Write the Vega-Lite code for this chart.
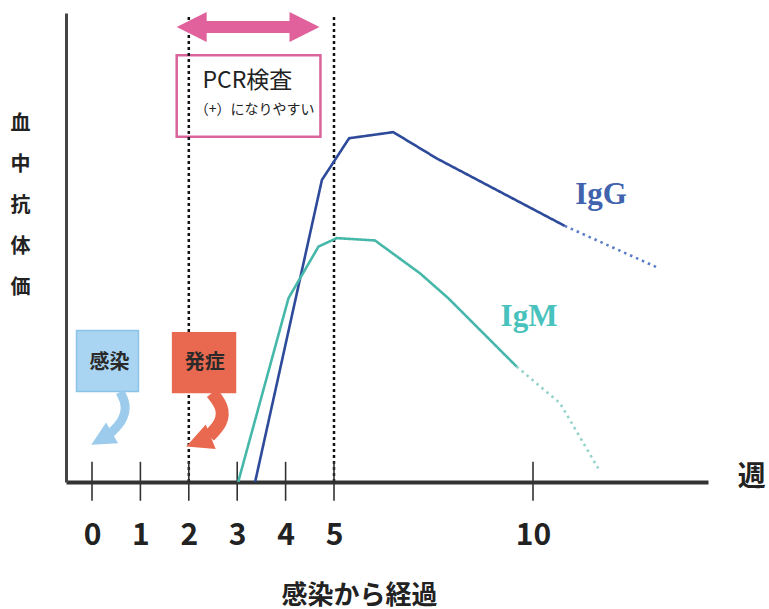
{
  "$schema": "https://vega.github.io/schema/vega-lite/v6.json",
  "width": 642,
  "height": 469,
  "autosize": {"type": "none"},
  "padding": {"left": 66, "top": 13, "right": 61, "bottom": 127},
  "background": "white",
  "config": {"view": {"stroke": null}},
  "encoding": {
    "x": {
      "field": "w", "type": "quantitative",
      "scale": {"type": "linear", "domain": [-0.537, 0, 5, 10, 14.4], "range": [0, 26, 268, 467, 642], "nice": false, "zero": false},
      "axis": {
        "values": [0, 1, 2, 3, 4, 5, 10], "ticks": false, "tickSize": 0, "grid": false,
        "domainColor": "#333", "domainWidth": 4,
        "labelFont": "Noto Sans CJK JP", "labelFontWeight": "bold", "labelFontSize": 30, "labelColor": "#222",
        "labelPadding": 38, "labelBaseline": "top", "labelFlush": false, "labelOverlap": false,
        "title": "感染から経過", "titleFont": "Noto Sans CJK JP", "titleFontSize": 26, "titleFontWeight": "bold", "titleColor": "#222",
        "titleX": 293, "titleY": 113, "titleBaseline": "middle", "titleAlign": "center", "titleAnchor": null
      }
    },
    "y": {
      "field": "v", "type": "quantitative",
      "scale": {"domain": [0, 100], "nice": false, "zero": false},
      "axis": {
        "ticks": false, "labels": false, "grid": false, "domainColor": "#444", "domainWidth": 3,
        "title": ["血", "中", "抗", "体", "価"], "titleAngle": 0, "titleFont": "Noto Sans CJK JP", "titleFontSize": 20,
        "titleFontWeight": "bold", "titleColor": "#222", "titleLineHeight": 41,
        "titleX": -46, "titleY": 110, "titleBaseline": "middle", "titleAlign": "center"
      }
    }
  },
  "layer": [
    {
      "data": {"values": [{"w": 1.75, "w2": 4.72, "v": 91.0, "v2": 73.6}]},
      "mark": {"type": "rect", "fill": "white", "stroke": "#d8649c", "strokeWidth": 2.5},
      "encoding": {"x2": {"field": "w2"}, "y2": {"field": "v2"}}
    },
    {
      "data": {"values": [{"w": 2, "v": 0, "v2": 99.4}, {"w": 5, "v": 0, "v2": 99.8}]},
      "mark": {"type": "rule", "color": "#111", "strokeWidth": 2.5, "strokeDash": [3, 3]},
      "encoding": {"y2": {"field": "v2"}}
    },
    {
      "data": {"values": [{"w": 0, "v": -4.0, "v2": 4.3}, {"w": 1, "v": -4.0, "v2": 4.3}, {"w": 2, "v": -4.0, "v2": 4.3}, {"w": 3, "v": -4.0, "v2": 4.3}, {"w": 4, "v": -4.0, "v2": 4.3}, {"w": 5, "v": -4.0, "v2": 4.3}, {"w": 10, "v": -4.0, "v2": 4.3}]},
      "mark": {"type": "rule", "color": "#333", "strokeWidth": 1.6},
      "encoding": {"y2": {"field": "v2"}}
    },
    {
      "data": {"values": [{"w": 2.06, "w2": 4.39, "v": 97.0}]},
      "mark": {"type": "rule", "color": "#e0619b", "strokeWidth": 12},
      "encoding": {"x2": {"field": "w2"}}
    },
    {
      "data": {"values": [{"w": 2.06, "v": 97.0}]},
      "mark": {"type": "point", "shape": "M1,-1L-1,0L1,1Z", "filled": true, "size": 900, "color": "#e0619b", "opacity": 1}
    },
    {
      "data": {"values": [{"w": 4.39, "v": 97.0}]},
      "mark": {"type": "point", "shape": "M-1,-1L1,0L-1,1Z", "filled": true, "size": 900, "color": "#e0619b", "opacity": 1}
    },
    {
      "data": {"values": [{"w": -0.32, "w2": 0.96, "v": 32.3, "v2": 19.3}]},
      "mark": {"type": "rect", "fill": "#a9d5f2", "stroke": "#8cc3e8", "strokeWidth": 1.5},
      "encoding": {"x2": {"field": "w2"}, "y2": {"field": "v2"}}
    },
    {
      "data": {"values": [{"w": 1.65, "w2": 2.98, "v": 32.0, "v2": 18.9}]},
      "mark": {"type": "rect", "fill": "#e8694f"},
      "encoding": {"x2": {"field": "w2"}, "y2": {"field": "v2"}}
    },
    {
      "data": {"values": [{"o": 1, "w": 0.58, "v": 19.2}, {"o": 2, "w": 0.72, "v": 16.4}, {"o": 3, "w": 0.64, "v": 13.0}, {"o": 4, "w": 0.38, "v": 10.4}]},
      "mark": {"type": "line", "interpolate": "basis", "color": "#9ccbec", "strokeWidth": 9},
      "encoding": {"order": {"field": "o"}}
    },
    {
      "data": {"values": [{"w": 0.2, "v": 9.2}]},
      "mark": {"type": "point", "shape": "M-1,-1L1,0L-1,1Z", "filled": true, "size": 576, "angle": 150, "color": "#9ccbec", "opacity": 1}
    },
    {
      "data": {"values": [{"o": 1, "w": 2.48, "v": 19.0}, {"o": 2, "w": 2.71, "v": 16.0}, {"o": 3, "w": 2.69, "v": 12.6}, {"o": 4, "w": 2.42, "v": 9.8}]},
      "mark": {"type": "line", "interpolate": "basis", "color": "#e8694f", "strokeWidth": 13},
      "encoding": {"order": {"field": "o"}}
    },
    {
      "data": {"values": [{"w": 2.2, "v": 8.6}]},
      "mark": {"type": "point", "shape": "M-1,-1L1,0L-1,1Z", "filled": true, "size": 700, "angle": 158, "color": "#e8694f", "opacity": 1}
    },
    {
      "data": {"values": [
        {"line": "IgG", "seg": "solid", "w": 3.37, "v": 0},
        {"line": "IgG", "seg": "solid", "w": 4.75, "v": 64.4},
        {"line": "IgG", "seg": "solid", "w": 5.38, "v": 73.3},
        {"line": "IgG", "seg": "solid", "w": 6.49, "v": 74.6},
        {"line": "IgG", "seg": "solid", "w": 7.58, "v": 69.0},
        {"line": "IgG", "seg": "solid", "w": 10.80, "v": 54.6},
        {"line": "IgG (推定)", "seg": "dotted", "w": 10.80, "v": 54.6},
        {"line": "IgG (推定)", "seg": "dotted", "w": 13.11, "v": 45.8},
        {"line": "IgM", "seg": "solid", "w": 3.02, "v": 0},
        {"line": "IgM", "seg": "solid", "w": 4.06, "v": 39.2},
        {"line": "IgM", "seg": "solid", "w": 4.68, "v": 50.2},
        {"line": "IgM", "seg": "solid", "w": 5.07, "v": 52.0},
        {"line": "IgM", "seg": "solid", "w": 6.03, "v": 51.5},
        {"line": "IgM", "seg": "solid", "w": 7.16, "v": 44.5},
        {"line": "IgM", "seg": "solid", "w": 7.87, "v": 39.2},
        {"line": "IgM", "seg": "solid", "w": 9.59, "v": 24.6},
        {"line": "IgM (推定)", "seg": "dotted", "w": 9.59, "v": 24.6},
        {"line": "IgM (推定)", "seg": "dotted", "w": 10.68, "v": 16.8},
        {"line": "IgM (推定)", "seg": "dotted", "w": 11.64, "v": 2.9}
      ]},
      "mark": {"type": "line", "strokeWidth": 2.6},
      "encoding": {
        "color": {"field": "line", "type": "nominal", "scale": {"domain": ["IgG", "IgG (推定)", "IgM", "IgM (推定)"], "range": ["#2e4a9a", "#5b7cc6", "#46b8aa", "#93d3cb"]}, "legend": null},
        "strokeDash": {"field": "seg", "type": "nominal", "scale": {"domain": ["solid", "dotted"], "range": [[1, 0], [2.5, 4]]}, "legend": null}
      }
    },
    {
      "data": {"values": [{"w": 3.21, "v": 85.4, "t": "PCR検査"}]},
      "mark": {"type": "text", "font": "Noto Sans CJK JP", "fontSize": 23, "color": "#222", "baseline": "middle", "align": "center"},
      "encoding": {"text": {"field": "t"}}
    },
    {
      "data": {"values": [{"w": 3.36, "v": 79.3, "t": "（+）になりやすい"}]},
      "mark": {"type": "text", "font": "Noto Sans CJK JP", "fontSize": 14, "color": "#222", "baseline": "middle", "align": "center"},
      "encoding": {"text": {"field": "t"}}
    },
    {
      "data": {"values": [{"w": 0.36, "v": 25.4, "t": "感染"}, {"w": 2.33, "v": 25.3, "t": "発症"}]},
      "mark": {"type": "text", "font": "Noto Sans CJK JP", "fontSize": 20, "fontWeight": "bold", "color": "#2a2a2a", "baseline": "middle", "align": "center"},
      "encoding": {"text": {"field": "t"}}
    },
    {
      "data": {"values": [{"w": 15.5, "v": 0.85, "t": "週"}]},
      "mark": {"type": "text", "font": "Noto Sans CJK JP", "fontSize": 28, "fontWeight": "bold", "color": "#222", "baseline": "middle", "align": "center"},
      "encoding": {"text": {"field": "t"}}
    },
    {
      "data": {"values": [{"w": 11.71, "v": 61.1, "t": "IgG"}]},
      "mark": {"type": "text", "font": "Liberation Serif", "fontSize": 31, "fontWeight": "bold", "color": "#3f63ad", "baseline": "middle", "align": "center"},
      "encoding": {"text": {"field": "t"}}
    },
    {
      "data": {"values": [{"w": 9.90, "v": 35.2, "t": "IgM"}]},
      "mark": {"type": "text", "font": "Liberation Serif", "fontSize": 31, "fontWeight": "bold", "color": "#48c2bd", "baseline": "middle", "align": "center"},
      "encoding": {"text": {"field": "t"}}
    }
  ]
}
